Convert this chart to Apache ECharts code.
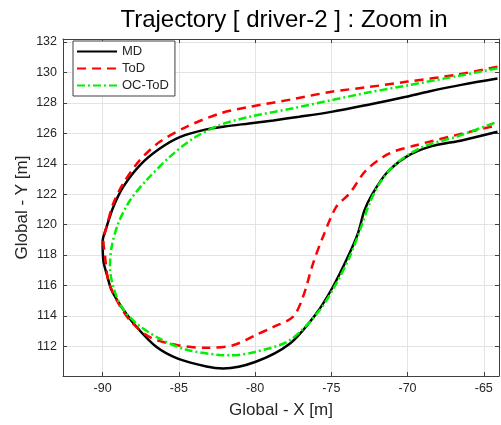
<!DOCTYPE html>
<html>
<head>
<meta charset="utf-8">
<script src="https://cdn.jsdelivr.net/npm/echarts@6/dist/echarts.min.js"></script>
<style>html,body{margin:0;padding:0;background:#fff}#c{width:501px;height:425px}</style>
</head>
<body>
<div id="c"></div>
<script>
var xTicks = [-90, -85, -80, -75, -70, -65];
var yTicks = [112, 114, 116, 118, 120, 122, 124, 126, 128, 130, 132];

var mdX = [-64.1, -66.4, -68.6, -70.1, -72.5, -75.0, -77.1, -78.8, -80.4, -82.0, -83.2, -84.9, -86.25, -87.56, -88.65, -89.3, -89.74, -90.0, -89.95, -89.74, -89.41, -88.76, -87.77, -86.46, -85.07, -83.19, -82.1, -80.0, -77.73, -75.99, -74.9, -73.92, -73.26, -72.82, -72.28, -71.4, -70.09, -68.57, -66.38, -64.1];
var mdY = [129.6, 129.2, 128.75, 128.4, 127.9, 127.41, 127.09, 126.85, 126.65, 126.45, 126.26, 125.77, 125.0, 123.9, 122.48, 121.16, 119.85, 118.9, 117.6, 116.78, 115.68, 114.59, 113.27, 111.95, 111.19, 110.68, 110.55, 110.97, 112.17, 114.15, 115.9, 117.87, 119.41, 120.95, 122.05, 123.36, 124.45, 125.11, 125.55, 126.1];

var todX = [-64.1, -66.8, -70.0, -72.5, -75.0, -77.5, -80.35, -82.32, -84.5, -86.25, -87.56, -88.65, -89.3, -89.74, -89.95, -89.85, -89.63, -89.08, -88.2, -86.9, -85.07, -83.19, -81.45, -80.0, -78.82, -77.52, -76.86, -76.2, -75.55, -74.68, -73.8, -72.71, -71.19, -69.44, -66.82, -64.1];
var todY = [130.38, 129.85, 129.4, 129.05, 128.73, 128.25, 127.74, 127.3, 126.43, 125.44, 124.24, 122.7, 121.39, 119.85, 118.9, 118.0, 116.34, 115.03, 113.7, 112.6, 112.07, 111.9, 112.07, 112.72, 113.27, 113.93, 115.24, 117.44, 119.19, 121.16, 122.05, 123.58, 124.68, 125.22, 125.88, 126.54];

var ocX = [-64.1, -66.8, -70.0, -72.5, -75.0, -77.5, -80.35, -82.32, -84.07, -85.6, -87.12, -88.2, -88.98, -89.41, -89.52, -89.3, -88.76, -87.77, -86.25, -84.5, -82.32, -81.66, -80.0, -77.73, -75.77, -74.68, -73.8, -73.04, -72.5, -71.84, -70.75, -69.0, -66.82, -64.1];
var ocY = [130.27, 129.75, 129.15, 128.7, 128.18, 127.65, 127.09, 126.54, 125.66, 124.45, 122.92, 121.6, 120.07, 118.53, 117.22, 115.9, 114.59, 113.49, 112.5, 111.78, 111.43, 111.41, 111.63, 112.4, 114.37, 116.12, 117.87, 119.85, 121.39, 122.7, 124.02, 125.11, 125.77, 126.76];

function pts(xs, ys) { return xs.map(function (x, i) { return [x, ys[i]]; }); }

var axisColor = '#404040';
var textColor = '#262626';
var font = 'Liberation Sans, Arial, sans-serif';

var chart = echarts.init(document.getElementById('c'));
chart.setOption({
  animation: false,
  title: {
    text: 'Trajectory [ driver-2 ] : Zoom in',
    left: 279, textAlign: 'center', top: 3,
    textStyle: { fontFamily: font, fontSize: 24, fontWeight: 'normal', color: '#000' }
  },
  grid: { left: 63, right: 2, top: 39, bottom: 49, containLabel: false },
  legend: {
    orient: 'vertical', left: 73, top: 41,
    itemWidth: 40, itemHeight: 14, itemGap: 4,
    padding: [4, 6, 4, 3],
    borderColor: '#404040', borderWidth: 1, backgroundColor: '#fff',
    itemStyle: { opacity: 0 },
    textStyle: { fontFamily: font, fontSize: 13, color: textColor },
    data: ['MD', 'ToD', 'OC-ToD']
  },
  xAxis: [{
    type: 'value', min: -92.6, max: -64.0,
    axisLine: { show: true, onZero: false, lineStyle: { color: axisColor } },
    axisTick: { show: true, inside: true, length: 4, customValues: xTicks, lineStyle: { color: axisColor } },
    axisLabel: { customValues: xTicks, margin: 6, fontFamily: font, fontSize: 12.5, color: textColor },
    splitLine: { show: true, lineStyle: { color: '#e3e3e3' } },
    name: 'Global - X [m]', nameLocation: 'middle', nameGap: 26, nameMoveOverlap: false,
    nameTextStyle: { fontFamily: font, fontSize: 17, color: textColor }
  }, {
    type: 'value', min: -92.6, max: -64.0, position: 'top',
    axisLine: { show: true, onZero: false, lineStyle: { color: axisColor } },
    axisTick: { show: true, inside: true, length: 4, customValues: xTicks, lineStyle: { color: axisColor } },
    axisLabel: { show: false }, splitLine: { show: false }
  }],
  yAxis: [{
    type: 'value', min: 110.05, max: 132.2,
    axisLine: { show: true, onZero: false, lineStyle: { color: axisColor } },
    axisTick: { show: true, inside: true, length: 4, customValues: yTicks, lineStyle: { color: axisColor } },
    axisLabel: { customValues: yTicks, margin: 6, fontFamily: font, fontSize: 12.5, color: textColor },
    splitLine: { show: true, lineStyle: { color: '#e3e3e3' } },
    name: 'Global - Y [m]', nameLocation: 'middle', nameGap: 32, nameMoveOverlap: false,
    nameTextStyle: { fontFamily: font, fontSize: 17, color: textColor }
  }, {
    type: 'value', min: 110.05, max: 132.2, position: 'right',
    axisLine: { show: true, onZero: false, lineStyle: { color: axisColor } },
    axisTick: { show: true, inside: true, length: 4, customValues: yTicks, lineStyle: { color: axisColor } },
    axisLabel: { show: false }, splitLine: { show: false }
  }],
  series: [{
    name: 'MD', type: 'line', data: pts(mdX, mdY), symbol: 'none', smooth: 0.3,
    lineStyle: { color: '#000', width: 2.5 }, itemStyle: { color: '#000' }, z: 3
  }, {
    name: 'ToD', type: 'line', data: pts(todX, todY), symbol: 'none', smooth: 0.3,
    lineStyle: { color: '#ff0000', width: 2.5, type: [9, 6] }, itemStyle: { color: '#ff0000' }, z: 4
  }, {
    name: 'OC-ToD', type: 'line', data: pts(ocX, ocY), symbol: 'none', smooth: 0.3,
    lineStyle: { color: '#00f000', width: 2.5, type: [8, 3, 2, 3] }, itemStyle: { color: '#00f000' }, z: 5
  }]
});
</script>
</body>
</html>
